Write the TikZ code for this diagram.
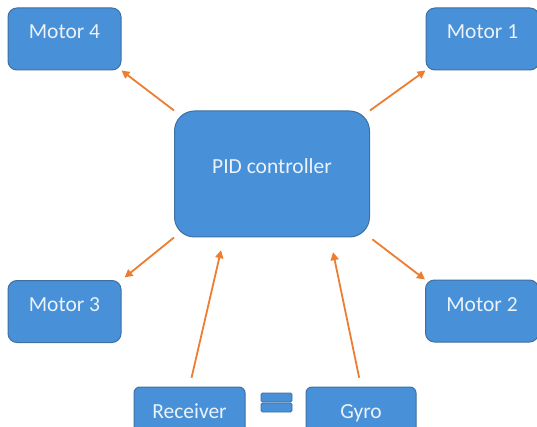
\documentclass[tikz,border=0pt]{standalone}
\usepackage{fontspec}
\setmainfont{Carlito}
\usetikzlibrary{arrows.meta}

\definecolor{boxblue}{RGB}{72,144,216}
\definecolor{boxedge}{RGB}{62,112,160}
\definecolor{arroworange}{RGB}{237,125,49}
\definecolor{boxtext}{RGB}{236,242,250}

\begin{document}
\begin{tikzpicture}[x=1pt,y=-1pt,
block/.style ={rectangle,draw=boxedge,line width=1pt,fill=boxblue,text=boxtext,
 font=\fontsize{21.5}{24}\selectfont,text height=10pt,text depth=10pt,inner sep=0pt},
motor/.style ={block,rounded corners=9pt,minimum width=113pt,minimum height=62pt},
sensor/.style ={block,rounded corners=6pt,minimum width=110pt,minimum height=62pt},
bar/.style ={rectangle,draw=boxedge,line width=0.8pt,fill=boxblue,rounded corners=1.5pt,
 minimum width=31pt,minimum height=9pt,inner sep=0pt},
flow/.style ={arroworange,line width=1.8pt,-{Triangle[width=8pt,length=8pt]}}]

\clip (0,0) rectangle (537,427);
\fill[white] (0,0) rectangle (537,427);

\node[block,rounded corners=20pt,minimum width=195pt,minimum height=126pt] (PID) at (272,174) {PID controller};
\node[motor] (M4) at (64.5,39) {Motor 4};
\node[motor] (M1) at (482.5,39) {Motor 1};
\node[motor] (M3) at (64.5,311.5) {Motor 3};
\node[motor] (M2) at (482,311) {Motor 2};
\node[sensor,minimum width=111pt] (Rx) at (189.5,418) {Receiver};
\node[sensor] (Gyro) at (361,418) {Gyro};

\node[bar] (EqTop) at (276.5,397.5) {};
\node[bar] (EqBot) at (276.5,407.5) {};

\draw[flow] (PID.north west) -- (M4.south east);
\draw[flow] (PID.north east) -- (M1.south west);
\draw[flow,shorten >=4pt] (PID.south west) -- (M3.north east);
\draw[flow,shorten <=3pt] (PID.south east) -- (M2.north west);
\draw[flow,shorten <=9pt,shorten >=13pt] (Rx.north) -- ([xshift=50pt]PID.south west);
\draw[flow,shorten <=9pt,shorten >=15pt] (Gyro.north) -- ([xshift=-40pt]PID.south east);

\end{tikzpicture}
\end{document}
